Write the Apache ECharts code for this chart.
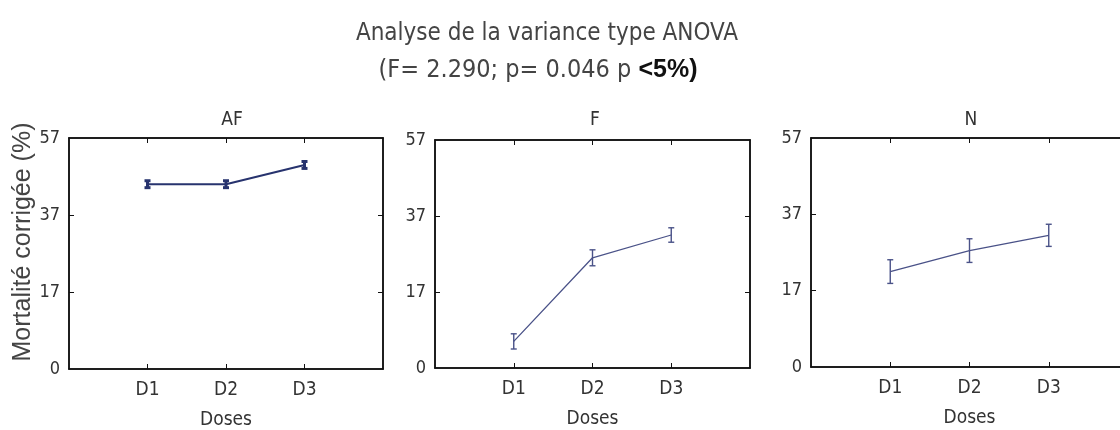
<!DOCTYPE html>
<html><head><meta charset="utf-8">
<script src="https://cdn.jsdelivr.net/npm/echarts@6/dist/echarts.min.js"></script>
<style>html,body{margin:0;padding:0;background:#fff}#c{width:1120px;height:430px}</style>
</head><body><div id="c"></div>
<script>
const categories = ['D1', 'D2', 'D3'];
const panelNames = ['AF', 'F', 'N'];
const afMean = [45, 45, 50];
const afErr = [0.9, 0.9, 0.9];
const fMean = [4, 26, 32];
const fErr = [2.0, 2.1, 1.9];
const nMean = [22, 27.5, 31.5];
const nErr = [3.1, 3.1, 2.9];
const yTickValues = [-3, 17, 37, 57];
const yTickLabels = ['0', '17', '37', '57'];

const FONT = '"Liberation Sans Narrow", "DejaVu Sans Condensed", "Liberation Sans", sans-serif';
const means = [afMean, fMean, nMean];
const errs = [afErr, fErr, nErr];
const grids = [
  {left: 69, top: 138, width: 314, height: 231},
  {left: 435, top: 140, width: 315, height: 228},
  {left: 811, top: 138, width: 317, height: 229}
];
const lineColors = ['#27336e', '#4a5288', '#4a5288'];
const lineWidths = [2, 1.3, 1.3];

const option = {
  animation: false,
  backgroundColor: '#fff',
  title: [
    {text: 'Analyse de la variance type ANOVA', left: 542, top: 17, textAlign: 'center',
     textStyle: {fontFamily: FONT, fontSize: 24, fontWeight: 'normal', color: '#444'}},
    {text: '(F= 2.290; p= 0.046 p {b|<5%)}', left: 533, top: 53, textAlign: 'center',
     textStyle: {fontFamily: FONT, fontSize: 25, fontWeight: 'normal', color: '#444',
       rich: {b: {fontFamily: '"Liberation Sans", Arial, sans-serif', fontSize: 25, fontWeight: 'bold', color: '#111'}}}}
  ].concat(panelNames.map((n, i) => ({
    text: n, left: [227, 590, 966][i], top: 106, textAlign: 'center',
    textStyle: {fontFamily: FONT, fontSize: 19, fontWeight: 'normal', color: '#333'}
  }))),
  graphic: [{
    type: 'text', x: 23, y: 242, rotation: Math.PI / 2, style: {
      text: 'Mortalité corrigée (%)', fontFamily: '"Liberation Sans", Arial, sans-serif', fontSize: 25,
      fill: '#444', align: 'center', verticalAlign: 'middle'
    }
  }],
  grid: grids.map(g => Object.assign({show: true, borderColor: '#111', borderWidth: 1.5,
    backgroundColor: '#fff', containLabel: false, outerBoundsMode: 'none'}, g)),
  xAxis: [],
  yAxis: [],
  series: []
};

grids.forEach((g, i) => {
  option.xAxis.push({
    type: 'value', gridIndex: i, min: 0, max: 4, position: 'bottom',
    name: 'Doses', nameLocation: 'middle', nameGap: 42,
    nameTextStyle: {fontFamily: FONT, fontSize: 19, color: '#333'},
    axisLine: {show: true, onZero: false, lineStyle: {color: '#111', width: 1.5}},
    axisTick: {show: true, inside: true, length: 5, customValues: [1, 2, 3], lineStyle: {color: '#111'}},
    axisLabel: {customValues: [1, 2, 3], margin: 12, fontFamily: FONT, fontSize: 19, color: '#333',
      formatter: v => categories[Math.round(v) - 1] || ''},
    splitLine: {show: false}
  });
  option.xAxis.push({
    type: 'value', gridIndex: i, min: 0, max: 4, position: 'top',
    axisLine: {show: true, onZero: false, lineStyle: {color: '#111', width: 1.5}},
    axisTick: {show: true, inside: true, length: 5, customValues: [1, 2, 3], lineStyle: {color: '#111'}},
    axisLabel: {show: false}, splitLine: {show: false}
  });
  option.yAxis.push({
    type: 'value', gridIndex: i, min: -3, max: 57, position: 'left',
    axisLine: {show: true, onZero: false, lineStyle: {color: '#111', width: 1.5}},
    axisTick: {show: true, inside: true, length: 5, customValues: [17, 37], lineStyle: {color: '#111'}},
    axisLabel: {customValues: yTickValues, margin: 9, fontFamily: FONT, fontSize: 18, color: '#333',
      formatter: v => yTickLabels[yTickValues.indexOf(Math.round(v))] || ''},
    splitLine: {show: false}
  });
  option.yAxis.push({
    type: 'value', gridIndex: i, min: -3, max: 57, position: 'right',
    axisLine: {show: true, onZero: false, lineStyle: {color: '#111', width: 1.5}},
    axisTick: {show: true, inside: true, length: 5, customValues: [17, 37], lineStyle: {color: '#111'}},
    axisLabel: {show: false}, splitLine: {show: false}
  });
  const pts = categories.map((c, k) => [k + 1, means[i][k], errs[i][k]]);
  option.series.push({
    type: 'line', xAxisIndex: 2 * i, yAxisIndex: 2 * i,
    data: pts.map(p => [p[0], p[1]]), symbol: 'none',
    lineStyle: {color: lineColors[i], width: lineWidths[i]}
  });
  option.series.push({
    type: 'custom', xAxisIndex: 2 * i, yAxisIndex: 2 * i,
    data: pts,
    renderItem: (params, api) => {
      const x = api.value(0), m = api.value(1), e = api.value(2);
      const top = api.coord([x, m + e]);
      const bot = api.coord([x, m - e]);
      const w = 3;
      const st = {stroke: lineColors[i], lineWidth: i === 0 ? 3 : 1.4};
      return {type: 'group', children: [
        {type: 'line', shape: {x1: top[0], y1: top[1], x2: bot[0], y2: bot[1]}, style: st},
        {type: 'line', shape: {x1: top[0] - w, y1: top[1], x2: top[0] + w, y2: top[1]}, style: st},
        {type: 'line', shape: {x1: bot[0] - w, y1: bot[1], x2: bot[0] + w, y2: bot[1]}, style: st}
      ]};
    }
  });
});

const chart = echarts.init(document.getElementById('c'), null, {renderer: 'canvas'});
chart.setOption(option);
</script></body></html>
